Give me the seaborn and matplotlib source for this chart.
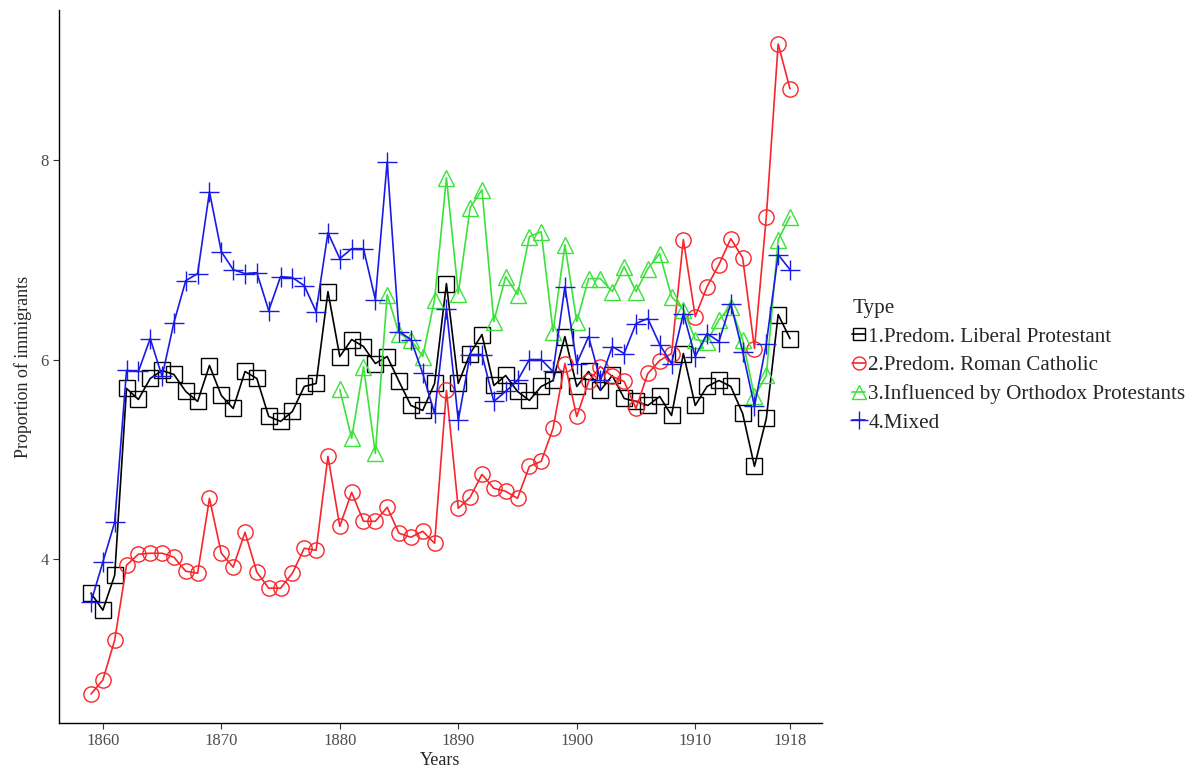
import numpy as np
import pandas as pd
import matplotlib
matplotlib.use("Agg")
import matplotlib.pyplot as plt
import seaborn as sns

years = list(range(1859, 1919))

liberal_protestant = [3.66, 3.49, 3.84, 5.71, 5.60, 5.81, 5.89, 5.85, 5.68, 5.58,
                      5.94, 5.64, 5.51, 5.88, 5.81, 5.43, 5.38, 5.48, 5.73, 5.76,
                      6.68, 6.03, 6.20, 6.13, 5.96, 6.03, 5.78, 5.54, 5.49, 5.76,
                      6.76, 5.76, 6.06, 6.25, 5.74, 5.84, 5.68, 5.59, 5.73, 5.79,
                      6.23, 5.73, 5.88, 5.69, 5.84, 5.61, 5.58, 5.54, 5.63, 5.44,
                      6.06, 5.54, 5.73, 5.79, 5.73, 5.46, 4.93, 5.41, 6.45, 6.21]

roman_catholic = [2.65, 2.79, 3.19, 3.94, 4.05, 4.06, 4.06, 4.02, 3.88, 3.86,
                  4.61, 4.06, 3.92, 4.27, 3.87, 3.71, 3.71, 3.86, 4.11, 4.09,
                  5.03, 4.33, 4.67, 4.38, 4.38, 4.52, 4.26, 4.22, 4.28, 4.16,
                  5.69, 4.51, 4.62, 4.85, 4.71, 4.68, 4.61, 4.93, 4.98, 5.31,
                  5.96, 5.43, 5.78, 5.93, 5.83, 5.78, 5.51, 5.86, 5.99, 6.06,
                  7.20, 6.43, 6.73, 6.95, 7.21, 7.02, 6.11, 7.43, 9.16, 8.71]

orthodox_years = list(range(1880, 1919))
orthodox_protestant = [5.70, 5.21, 5.93, 5.06, 6.65, 6.26, 6.20, 6.03, 6.60, 7.82,
                       6.66, 7.52, 7.70, 6.38, 6.83, 6.65, 7.23, 7.28, 6.28, 7.15,
                       6.38, 6.81, 6.81, 6.68, 6.93, 6.68, 6.91, 7.06, 6.63, 6.50,
                       6.20, 6.18, 6.40, 6.53, 6.20, 5.63, 5.84, 7.20, 7.43]

mixed = [3.57, 3.97, 4.37, 5.89, 5.88, 6.21, 5.83, 6.37, 6.79, 6.86,
         7.68, 7.08, 6.90, 6.86, 6.87, 6.49, 6.83, 6.82, 6.74, 6.48,
         7.27, 7.01, 7.11, 7.11, 6.60, 7.98, 6.28, 6.20, 5.86, 5.46,
         6.51, 5.39, 6.05, 6.05, 5.58, 5.68, 5.79, 6.00, 6.00, 5.88,
         6.73, 5.96, 6.23, 5.79, 6.13, 6.06, 6.36, 6.41, 6.15, 5.96,
         6.46, 6.03, 6.26, 6.18, 6.56, 6.08, 5.53, 6.16, 7.05, 6.90]

type_labels = ["1.Predom. Liberal Protestant", "2.Predom. Roman Catholic",
               "3.Influenced by Orthodox Protestants", "4.Mixed"]
x_ticks = [1860, 1870, 1880, 1890, 1900, 1910, 1918]
y_ticks = [4, 6, 8]

frames = [
    pd.DataFrame({"Years": years, "value": liberal_protestant, "Type": type_labels[0]}),
    pd.DataFrame({"Years": years, "value": roman_catholic, "Type": type_labels[1]}),
    pd.DataFrame({"Years": orthodox_years, "value": orthodox_protestant, "Type": type_labels[2]}),
    pd.DataFrame({"Years": years, "value": mixed, "Type": type_labels[3]}),
]
df = pd.concat(frames, ignore_index=True)

sns.set_theme(style="ticks")
plt.rcParams['font.family'] = ['Liberation Serif', 'DejaVu Serif']

colors = ["#000000", "#F8262B", "#3BE23B", "#1A1AE6"]
markers = ["s", "o", "^", "+"]
msizes = [11, 11, 12, 15]

fig = plt.figure(figsize=(11.94, 7.72), dpi=100)
ax = fig.add_axes([59/1194, 1 - 723/772, (822 - 59)/1194, (723 - 10)/772])

for lab, col, mk, ms in zip(type_labels, colors, markers, msizes):
    sub = df[df["Type"] == lab]
    kw = dict(mfc="none", mec=col, mew=1.0) if mk != "+" else dict(mec=col, mew=1.0)
    sns.lineplot(data=sub, x="Years", y="value", ax=ax, color=col, marker=mk,
                 markersize=ms, linewidth=1.2, label=lab, legend=False, **kw)

ax.set_xlim(1856.3, 1920.7)
ax.set_ylim(2.36, 9.5)
ax.set_xticks(x_ticks)
ax.set_yticks(y_ticks)
ax.tick_params(axis="both", labelsize=12, labelcolor="#4d4d4d", color="#333333",
               length=4, width=0.8, direction="out")
ax.set_xlabel("Years", fontsize=13, labelpad=2)
ax.set_ylabel("Proportion of immigrants", fontsize=13, labelpad=6)
for s in ["top", "right"]:
    ax.spines[s].set_visible(False)
for s in ["left", "bottom"]:
    ax.spines[s].set_color("black")
    ax.spines[s].set_linewidth(1.0)

handles, labels = ax.get_legend_handles_labels()
leg = fig.legend(handles, labels, title="Type", loc="center left",
                 bbox_to_anchor=(844/1194, 1 - 366/772), frameon=False,
                 fontsize=15.2, title_fontsize=15.2, handlelength=0.6,
                 handletextpad=0.15, labelspacing=0.42, borderaxespad=0,
                 markerscale=0.85)
leg._legend_box.align = "left"

fig.savefig("out.png", dpi=100)
